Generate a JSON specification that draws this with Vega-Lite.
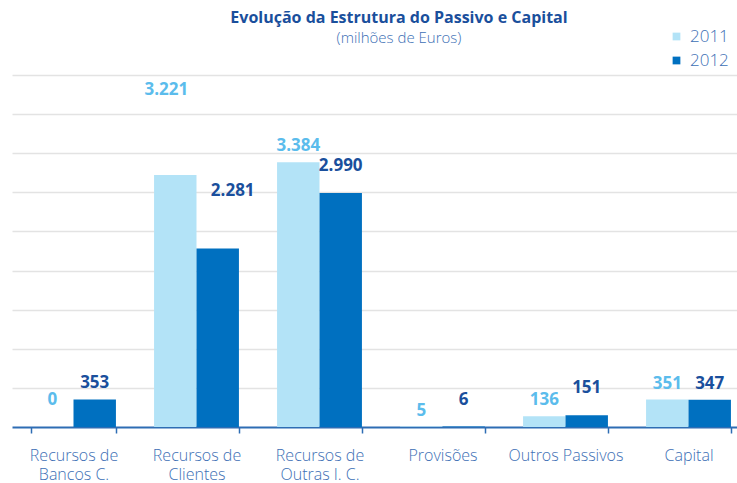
{
  "$schema": "https://vega.github.io/schema/vega-lite/v6.json",
  "width": 738,
  "height": 352,
  "autosize": {"type": "none"},
  "padding": {"left": 12, "top": 75, "right": 0, "bottom": 56},
  "background": "white",
  "config": {
    "view": {"stroke": null},
    "font": "Open Sans",
    "locale": {"number": {"decimal": ",", "thousands": ".", "grouping": [3], "currency": ["", " €"]}}
  },
  "title": {
    "text": "Evolução da Estrutura do Passivo e Capital",
    "subtitle": "(milhões de Euros)",
    "fontSize": 16,
    "fontWeight": "bold",
    "color": "#1a4f9c",
    "subtitleFontSize": 15,
    "subtitleColor": "#3d6fb5",
    "subtitleFontWeight": 300,
    "subtitlePadding": 5,
    "anchor": "middle",
    "frame": "group",
    "dx": 18,
    "offset": -18
  },
  "data": {
    "values": [
      {"categoria": "Recursos de|Bancos C.", "ano": "2011", "valor": 0},
      {"categoria": "Recursos de|Bancos C.", "ano": "2012", "valor": 353},
      {"categoria": "Recursos de|Clientes", "ano": "2011", "valor": 3221},
      {"categoria": "Recursos de|Clientes", "ano": "2012", "valor": 2281},
      {"categoria": "Recursos de|Outras I. C.", "ano": "2011", "valor": 3384},
      {"categoria": "Recursos de|Outras I. C.", "ano": "2012", "valor": 2990},
      {"categoria": "Provisões", "ano": "2011", "valor": 5},
      {"categoria": "Provisões", "ano": "2012", "valor": 6},
      {"categoria": "Outros Passivos", "ano": "2011", "valor": 136},
      {"categoria": "Outros Passivos", "ano": "2012", "valor": 151},
      {"categoria": "Capital", "ano": "2011", "valor": 351},
      {"categoria": "Capital", "ano": "2012", "valor": 347}
    ]
  },
  "encoding": {
    "x": {
      "field": "categoria",
      "type": "nominal",
      "sort": null,
      "title": null,
      "scale": {"paddingInner": 0.31, "paddingOuter": 0.155},
      "axis": {
        "labelExpr": "split(datum.label, '|')",
        "labelAngle": 0,
        "labelFontSize": 16,
        "labelColor": "#3d6fb5",
        "labelFontWeight": 300,
        "labelLineHeight": 19,
        "labelPadding": 14,
        "labelLimit": 200,
        "domainColor": "#2e6db4",
        "domainWidth": 2,
        "ticks": true,
        "tickBand": "extent",
        "tickColor": "#2e6db4",
        "tickSize": 6,
        "tickWidth": 1.5,
        "grid": false
      }
    },
    "xOffset": {"field": "ano", "type": "nominal"},
    "y": {
      "field": "valor",
      "type": "quantitative",
      "title": null,
      "scale": {"domain": [0, 4500]},
      "axis": {
        "labels": false,
        "ticks": false,
        "domain": false,
        "grid": true,
        "gridColor": "#e3e3e3",
        "gridWidth": 1.5,
        "values": [500, 1000, 1500, 2000, 2500, 3000, 3500, 4000, 4500]
      }
    }
  },
  "layer": [
    {
      "mark": {"type": "bar"},
      "encoding": {
        "color": {
          "field": "ano",
          "type": "nominal",
          "scale": {"domain": ["2011", "2012"], "range": ["#b3e3f7", "#0070c0"]},
          "legend": {
            "orient": "none",
            "legendX": 656,
            "legendY": -47,
            "title": null,
            "symbolType": "square",
            "symbolSize": 60,
            "symbolStrokeWidth": 0,
            "labelFontSize": 17,
            "labelColor": "#3d6fb5",
            "labelFontWeight": 300,
            "labelOffset": 5,
            "rowPadding": 6
          }
        }
      }
    },
    {
      "transform": [{"filter": "indexof([3221, 2281, 0, 6, 151, 2990], datum.valor) < 0"}],
      "mark": {"type": "text", "baseline": "alphabetic", "dy": -11, "fontSize": 17, "fontWeight": "bold"},
      "encoding": {
        "text": {"field": "valor", "type": "quantitative", "format": ",d"},
        "color": {"condition": {"test": "datum.ano == '2011'", "value": "#5bbcec"}, "value": "#1a4f9c"}
      }
    },
    {
      "transform": [{"filter": "indexof([0, 6, 151, 2990], datum.valor) >= 0"}],
      "mark": {"type": "text", "baseline": "alphabetic", "dy": -22, "fontSize": 17, "fontWeight": "bold"},
      "encoding": {
        "text": {"field": "valor", "type": "quantitative", "format": ",d"},
        "color": {"condition": {"test": "datum.ano == '2011'", "value": "#5bbcec"}, "value": "#1a4f9c"}
      }
    },
    {
      "transform": [{"filter": "datum.valor == 3221"}],
      "mark": {"type": "text", "baseline": "alphabetic", "dy": -80, "dx": -9, "fontSize": 17, "fontWeight": "bold", "color": "#5bbcec"},
      "encoding": {
        "text": {"field": "valor", "type": "quantitative", "format": ",d"}
      }
    },
    {
      "transform": [{"filter": "datum.valor == 2281"}],
      "mark": {"type": "text", "baseline": "alphabetic", "dy": -53, "dx": 15, "fontSize": 17, "fontWeight": "bold", "color": "#1a4f9c"},
      "encoding": {
        "text": {"field": "valor", "type": "quantitative", "format": ",d"}
      }
    }
  ]
}
